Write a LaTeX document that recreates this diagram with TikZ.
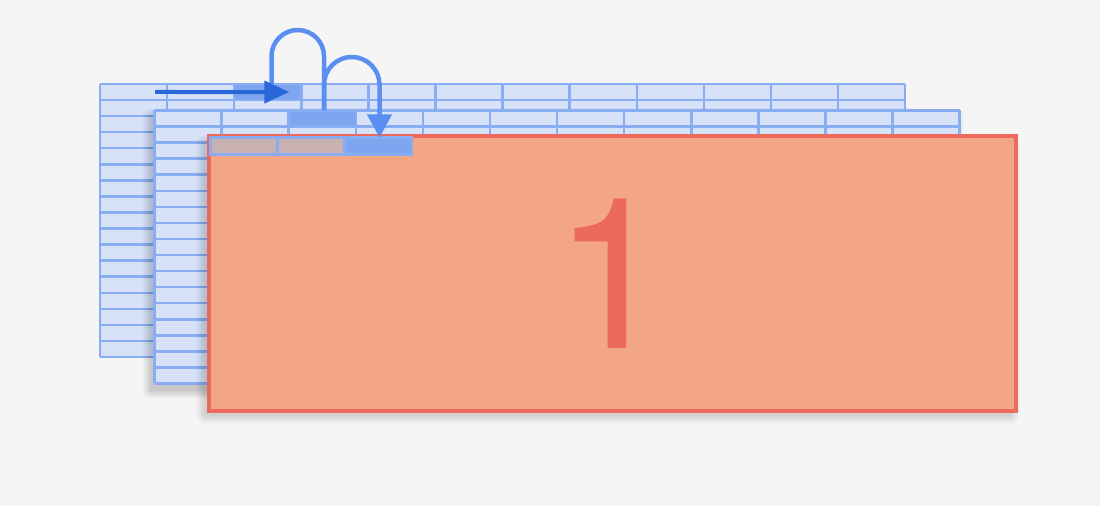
\documentclass[tikz,border=0pt]{standalone}
\usepackage{fontspec}
\setmainfont{TeX Gyre Heros}
\usetikzlibrary{positioning, arrows.meta}

\definecolor{bggray}{HTML}{F5F5F5}
\definecolor{sheetfill}{HTML}{D7E2F9}
\definecolor{sheetline}{HTML}{88ADF2}
\definecolor{cellhi}{HTML}{7EA6F0}
\definecolor{cellgray}{HTML}{C9B1B1}
\definecolor{arrowdark}{HTML}{2A68DA}
\definecolor{arrowlight}{HTML}{5A8EF0}
\definecolor{frontfill}{HTML}{F3A686}
\definecolor{frontline}{HTML}{EC6A5C}

\begin{document}
\begin{tikzpicture}[x=1pt, y=1pt,
    gridline/.style={sheetline, line width=2.5pt},
    softshade/.style={black, opacity=0.02},
    hicell/.style={draw=sheetline, fill=cellhi, line width=2.5pt, inner sep=0pt,
        outer sep=0pt, minimum width=67.1pt, minimum height=16.06pt, anchor=north west},
    hop/.style={arrowlight, line width=4.5pt}]
    \useasboundingbox (0,0) rectangle (1100,506);
    \fill[bggray] (0,0) rectangle (1100,506);
    % Two sheets of cells, back one first (shade only under the second)
    \foreach \ox/\oy/\shade/\name in {100/422/0/backcell, 154.5/395.5/1/midcell} {
        \ifnum\shade=1
            \foreach \e in {1,...,9}
                \fill[softshade, rounded corners=\e] (\ox-3-\e,\oy-279-\e) rectangle (\ox+800.2+\e,\oy-7+\e);
        \fi
        \fill[sheetfill] (\ox,\oy) rectangle ++(805.2,-273);
        \foreach \r in {0,...,17}
            \draw[gridline] (\ox,\oy-\r*16.06) -- ++(805.2,0);
        \foreach \c in {0,...,12}
            \draw[gridline] (\ox+\c*67.1,\oy) -- ++(0,-273);
        \node[hicell] (\name) at (\ox+134.2,\oy) {};
    }
    % Front sheet
    \foreach \e in {1,...,9}
        \fill[softshade, opacity=0.014, rounded corners=\e] (205-\e,91-\e) rectangle (1010+\e,362+\e);
    \draw[fill=frontfill, draw=frontline, line width=4pt] (209,370) rectangle (1016,95);
    \foreach \c in {0,1}
        \draw[gridline, fill=cellgray] (210.5+\c*67.1,368.5) rectangle ++(67.1,-17);
    \node[hicell, minimum height=17pt] (frontcell) at (344.7,368.5) {};
    \node[text=frontline, font=\fontsize{211}{211}\selectfont] (sheetnum) at (612.5,232.5) {1};
    % Hops from sheet to sheet
    \draw[hop] ([xshift=3.75pt]backcell.north) -- ++(0,27.75)
        arc[start angle=180, end angle=0, radius=26.25] -- ([xshift=1.75pt]midcell.north);
    \draw[hop, -{Triangle[length=23pt, width=24pt]}] ([xshift=1.75pt]midcell.north) -- ++(0,25.75)
        arc[start angle=180, end angle=0, radius=27.75] -- ([xshift=1.25pt]frontcell.north);
    % Along the first row
    \coordinate (rowstart) at (155,414);
    \draw[arrowdark, line width=4pt, -{Triangle[length=25pt, width=22pt]}]
        (rowstart) -- ([xshift=-12pt]backcell.east);
\end{tikzpicture}
\end{document}
